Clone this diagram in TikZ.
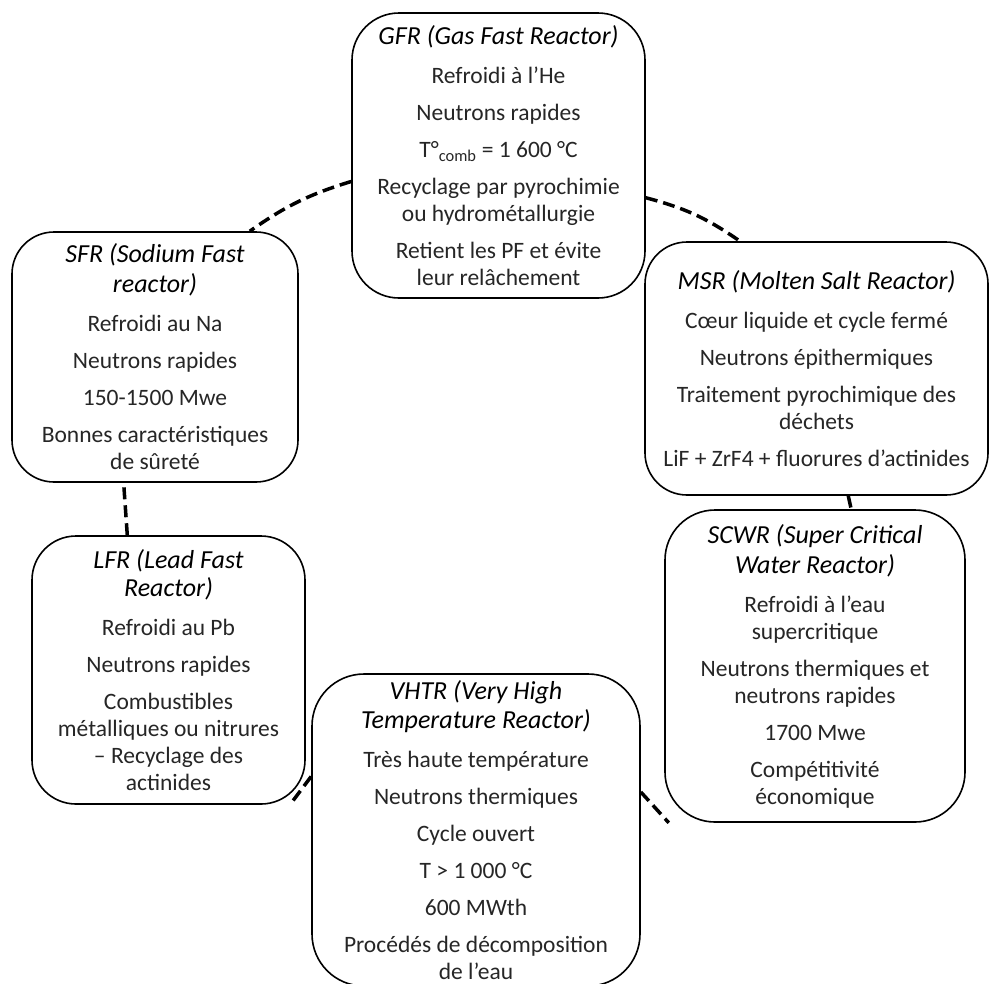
\documentclass[tikz,border=0pt]{standalone}
\usepackage{fontspec}
\setmainfont{Carlito}
\usetikzlibrary{backgrounds}
\newcommand{\boxtitle}[1]{{\color{black}\fontsize{26}{27}\selectfont\itshape #1}}
\begin{document}
\begin{tikzpicture}[x=1pt,y=-1pt,
  box/.style={draw, line width=1.6pt, fill=white, inner sep=0pt, align=center,
    font=\fontsize{23.5}{27}\selectfont, text=black!85},
  link/.style={line width=3.5pt, dash pattern=on 12pt off 6pt}]
\useasboundingbox (0,0) rectangle (992,983);

\node[box, rounded corners=47pt, minimum width=293pt, minimum height=285pt] (gfr) at (498.5,155.5) {%
\boxtitle{GFR (Gas Fast Reactor)}\\[12pt]
Refroidi à l’He\\[10pt]
Neutrons rapides\\[10pt]
T°\textsubscript{comb} = 1 600 °C\\[10pt]
Recyclage par pyrochimie\\
ou hydrométallurgie\\[10pt]
Retient les PF et évite\\
leur relâchement};

\node[box, rounded corners=42pt, minimum width=286pt, minimum height=250pt] (sfr) at (155,357) {%
\boxtitle{SFR (Sodium Fast}\\[3pt]
\boxtitle{reactor)}\\[12pt]
Refroidi au Na\\[10pt]
Neutrons rapides\\[10pt]
150-1500 Mwe\\[10pt]
Bonnes caractéristiques\\
de sûreté};

\node[box, rounded corners=42pt, minimum width=343pt, minimum height=253pt] (msr) at (816.5,368.5) {%
\boxtitle{MSR (Molten Salt Reactor)}\\[12pt]
Cœur liquide et cycle fermé\\[10pt]
Neutrons épithermiques\\[10pt]
Traitement pyrochimique des\\
déchets\\[10pt]
LiF + ZrF4 + fluorures d’actinides};

\node[box, rounded corners=50pt, minimum width=300pt, minimum height=312pt] (scwr) at (815,666) {%
\boxtitle{SCWR (Super Critical}\\[3pt]
\boxtitle{Water Reactor)}\\[12pt]
Refroidi à l’eau\\
supercritique\\[10pt]
Neutrons thermiques et\\
neutrons rapides\\[10pt]
1700 Mwe\\[10pt]
Compétitivité\\
économique};

\node[box, rounded corners=44pt, minimum width=273pt, minimum height=268pt] (lfr) at (168.5,670) {%
\boxtitle{LFR (Lead Fast}\\[1pt]
\boxtitle{Reactor)}\\[12pt]
Refroidi au Pb\\[10pt]
Neutrons rapides\\[10pt]
Combustibles\\
métalliques ou nitrures\\
– Recyclage des\\
actinides};

\node[box, rounded corners=52pt, minimum width=328pt, minimum height=312pt] (vhtr) at (476,830) {%
\boxtitle{VHTR (Very High}\\[2pt]
\boxtitle{Temperature Reactor)}\\[12pt]
Très haute température\\[10pt]
Neutrons thermiques\\[10pt]
Cycle ouvert\\[10pt]
T > 1 000 °C\\[10pt]
600 MWth\\[10pt]
Procédés de décomposition\\
de l’eau};

\begin{scope}[on background layer]
\draw[link] (gfr.190) to[bend right=9] (sfr.53);
\draw[link] (gfr.344) to[bend left=10] (msr.121);
\draw[link] (msr.284) -- (scwr.77);
\draw[link] (vhtr.13) -- (scwr.227);
\draw[link] (vhtr.162) -- (lfr.312);
\draw[link] (lfr.107) -- (sfr.256);
\end{scope}
\end{tikzpicture}
\end{document}
